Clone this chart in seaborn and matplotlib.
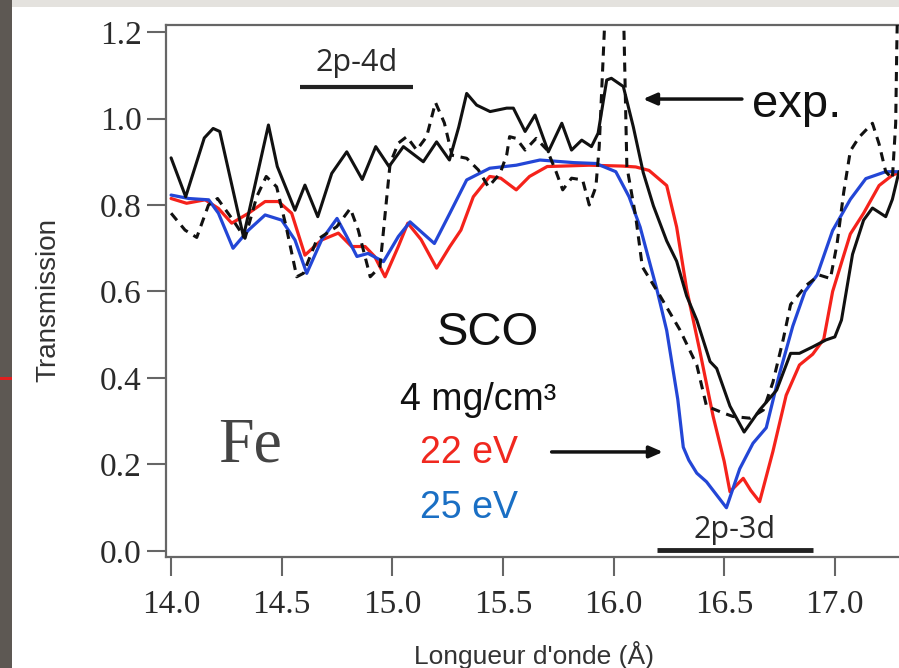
import matplotlib
matplotlib.use("Agg")
import matplotlib.pyplot as plt
import seaborn as sns
import pandas as pd
from matplotlib.patches import Rectangle

# ---- data ----
exp_solid_x = [14.00, 14.066, 14.15, 14.19, 14.22, 14.327, 14.44, 14.48, 14.56, 14.605, 14.663, 14.726,
               14.794, 14.864, 14.925, 14.985, 15.05, 15.14, 15.20, 15.258, 15.30, 15.336, 15.381, 15.442,
               15.517, 15.547, 15.60, 15.645, 15.705, 15.766, 15.81, 15.856, 15.90, 15.93, 15.969, 15.99,
               16.044, 16.089, 16.134, 16.18, 16.24, 16.285, 16.33, 16.376, 16.436, 16.466, 16.526, 16.59,
               16.66, 16.737, 16.80, 16.84, 16.90, 16.96, 17.00, 17.03, 17.08, 17.13, 17.17, 17.23, 17.26, 17.29]
exp_solid_y = [0.909, 0.819, 0.955, 0.977, 0.970, 0.727, 0.985, 0.889, 0.788, 0.846, 0.773, 0.873,
               0.923, 0.859, 0.935, 0.889, 0.935, 0.900, 0.946, 0.904, 0.980, 1.058, 1.031, 1.016,
               1.024, 1.024, 0.970, 1.008, 0.923, 0.989, 0.927, 0.950, 0.935, 0.966, 1.089, 1.093,
               1.074, 0.981, 0.875, 0.798, 0.717, 0.670, 0.590, 0.534, 0.438, 0.422, 0.335, 0.275,
               0.326, 0.372, 0.457, 0.457, 0.472, 0.488, 0.495, 0.534, 0.686, 0.765, 0.793, 0.773, 0.813, 0.877]

exp_dash_x = [14.00, 14.063, 14.116, 14.169, 14.21, 14.28, 14.334, 14.387, 14.43, 14.477, 14.52, 14.568,
              14.598, 14.658, 14.749, 14.81, 14.846, 14.90, 14.944, 14.975, 14.99, 15.027, 15.065, 15.11,
              15.155, 15.195, 15.235, 15.27, 15.336, 15.389, 15.434, 15.487, 15.517, 15.53, 15.56, 15.60,
              15.65, 15.70, 15.74, 15.77, 15.81, 15.86, 15.89, 15.92, 15.935, 15.958, 15.965, 16.040,
              16.047, 16.06, 16.10, 16.13, 16.21, 16.30, 16.376, 16.42, 16.496, 16.54, 16.617, 16.677,
              16.72, 16.767, 16.80, 16.87, 16.93, 16.98, 17.01, 17.04, 17.07, 17.11, 17.17, 17.20,
              17.23, 17.26, 17.275, 17.28, 17.285]
exp_dash_y = [0.781, 0.742, 0.725, 0.800, 0.815, 0.765, 0.723, 0.819, 0.866, 0.842, 0.750, 0.634,
              0.642, 0.719, 0.750, 0.792, 0.742, 0.634, 0.657, 0.819, 0.896, 0.943, 0.958, 0.927,
              0.958, 1.037, 0.990, 0.915, 0.908, 0.881, 0.842, 0.873, 0.916, 0.958, 0.954, 0.927,
              0.954, 0.927, 0.877, 0.835, 0.862, 0.858, 0.800, 0.842, 0.935, 1.200, 1.300, 1.300,
              1.200, 0.889, 0.773, 0.657, 0.590, 0.511, 0.430, 0.335, 0.319, 0.311, 0.307, 0.326,
              0.390, 0.490, 0.570, 0.614, 0.638, 0.630, 0.710, 0.829, 0.925, 0.957, 0.989, 0.941,
              0.877, 0.861, 0.989, 1.165, 1.300]

ev22_x = [14.00, 14.07, 14.154, 14.214, 14.274, 14.35, 14.425, 14.485, 14.545, 14.605, 14.68, 14.756,
          14.816, 14.877, 14.92, 14.967, 15.027, 15.07, 15.13, 15.20, 15.26, 15.31, 15.366, 15.44,
          15.49, 15.56, 15.62, 15.70, 15.77, 15.89, 16.04, 16.10, 16.16, 16.24, 16.285, 16.33,
          16.39, 16.45, 16.50, 16.526, 16.586, 16.62, 16.66, 16.72, 16.78, 16.84, 16.90, 16.95,
          16.99, 17.07, 17.13, 17.20, 17.26, 17.29]
ev22_y = [0.815, 0.804, 0.812, 0.792, 0.758, 0.781, 0.808, 0.808, 0.781, 0.684, 0.719, 0.735,
          0.704, 0.704, 0.681, 0.634, 0.704, 0.758, 0.720, 0.654, 0.704, 0.742, 0.819, 0.866,
          0.862, 0.835, 0.866, 0.889, 0.890, 0.892, 0.890, 0.888, 0.880, 0.845, 0.749, 0.606,
          0.462, 0.311, 0.207, 0.137, 0.168, 0.140, 0.114, 0.230, 0.360, 0.430, 0.455, 0.490,
          0.600, 0.733, 0.781, 0.845, 0.869, 0.875]

ev25_x = [14.00, 14.08, 14.17, 14.214, 14.28, 14.35, 14.425, 14.50, 14.56, 14.613, 14.68, 14.75,
          14.794, 14.84, 14.89, 14.96, 15.027, 15.08, 15.19, 15.26, 15.336, 15.44, 15.56, 15.667,
          15.82, 15.92, 16.01, 16.07, 16.12, 16.195, 16.24, 16.29, 16.315, 16.34, 16.376, 16.42,
          16.51, 16.57, 16.63, 16.69, 16.75, 16.81, 16.865, 16.92, 16.99, 17.07, 17.14, 17.23, 17.29]
ev25_y = [0.823, 0.815, 0.812, 0.781, 0.700, 0.742, 0.777, 0.765, 0.719, 0.642, 0.719, 0.769,
          0.727, 0.681, 0.688, 0.669, 0.727, 0.761, 0.711, 0.781, 0.858, 0.885, 0.892, 0.904,
          0.898, 0.896, 0.877, 0.819, 0.749, 0.606, 0.510, 0.351, 0.240, 0.210, 0.180, 0.160,
          0.100, 0.190, 0.249, 0.285, 0.410, 0.520, 0.600, 0.638, 0.741, 0.813, 0.861, 0.877, 0.877]

x_ticks = [14.0, 14.5, 15.0, 15.5, 16.0, 16.5, 17.0]
y_ticks = [0.0, 0.2, 0.4, 0.6, 0.8, 1.0, 1.2]

# ---- style ----
sns.set_style("white")
plt.rcParams['font.family'] = ['Liberation Sans', 'DejaVu Sans']

W, H = 899, 668
fig = plt.figure(figsize=(W / 100, H / 100), dpi=100)
fig.patch.set_facecolor("white")

def px_box(l, t, r, b):
    return [l / W, 1 - b / H, (r - l) / W, (b - t) / H]

ax = fig.add_axes(px_box(166, 25, 899, 557))
ax.set_xlim(13.977, 17.290)
ax.set_ylim(-0.0139, 1.2162)

RED = "#f5221b"
BLUE = "#2346d6"
BLACK = "#111111"

sns.lineplot(x=ev22_x, y=ev22_y, ax=ax, color=RED, lw=2.3, sort=False, estimator=None, zorder=3)
sns.lineplot(x=ev25_x, y=ev25_y, ax=ax, color=BLUE, lw=2.3, sort=False, estimator=None, zorder=4)
sns.lineplot(x=exp_dash_x, y=exp_dash_y, ax=ax, color=BLACK, lw=2.2, sort=False, estimator=None, zorder=5)
ax.lines[-1].set_dashes([3, 2.2])
sns.lineplot(x=exp_solid_x, y=exp_solid_y, ax=ax, color=BLACK, lw=2.2, sort=False, estimator=None, zorder=6)
for ln in ax.lines:
    ln.set_solid_joinstyle("round")
    ln.set_solid_capstyle("round")

# spines
for s in ["left", "bottom", "top"]:
    ax.spines[s].set_color("#666666")
    ax.spines[s].set_linewidth(1.6)
ax.spines["right"].set_visible(False)

ax.set_xticks(x_ticks)
ax.set_xticklabels([f"{v:.1f}" for v in x_ticks])
ax.set_yticks(y_ticks)
ax.set_yticklabels([f"{v:.1f}" for v in y_ticks])
ax.tick_params(axis="both", direction="out", length=13.5, width=1.5, color="#666666",
               labelcolor="#2a2a2a", labelsize=24, bottom=True, left=True, top=False, right=False)
ax.tick_params(axis="x", pad=10)
ax.tick_params(axis="y", pad=4)
for lab in ax.get_xticklabels() + ax.get_yticklabels():
    lab.set_fontfamily(["Liberation Serif", "DejaVu Serif"])
ax.set_xlabel("")
ax.set_ylabel("")

# axis titles
fig.text(48 / W, 1 - 300 / H, "Transmission", rotation=90, ha="center", va="center",
         fontsize=20, color="#333333", family=["Liberation Sans Narrow", "Liberation Sans"])
fig.text(534 / W, 1 - 664 / H, "Longueur d'onde (Å)", ha="center", va="baseline",
         fontsize=19, color="#333333", family=["Liberation Sans Narrow", "Liberation Sans"])

# annotations
LAB = ["Open Sans", "DejaVu Sans"]
ax.text(14.84, 1.128, "2p-4d", ha="center", va="center", fontsize=22, color="#2a2a2a", family=LAB)
ax.plot([14.583, 15.094], [1.073, 1.073], color="#222222", lw=3, solid_capstyle="butt", zorder=7)
ax.text(16.549, 0.049, "2p-3d", ha="center", va="center", fontsize=22, color="#2a2a2a", family=LAB)
ax.plot([16.196, 16.901], [0.002, 0.002], color="#222222", lw=3.5, solid_capstyle="butt",
        zorder=7, clip_on=False)

ax.text(16.625, 1.003, "exp.", ha="left", va="baseline", fontsize=34, color=BLACK)
ax.annotate("", xy=(16.133, 1.045), xytext=(16.58, 1.045),
            arrowprops=dict(arrowstyle="-|>,head_length=0.8,head_width=0.35", color=BLACK, lw=2.5,
                            shrinkA=0, shrinkB=0), zorder=8)

ax.text(15.432, 0.476, "SCO", ha="center", va="baseline", fontsize=34, color=BLACK)
ax.text(15.035, 0.326, "4 mg/cm³", ha="left", va="baseline", fontsize=27, color=BLACK)
ax.text(15.125, 0.203, "22 eV", ha="left", va="baseline", fontsize=27, color="#f0281f")
ax.text(15.125, 0.076, "25 eV", ha="left", va="baseline", fontsize=27, color="#1a6fc4")
ax.annotate("", xy=(16.223, 0.229), xytext=(15.72, 0.229),
            arrowprops=dict(arrowstyle="-|>,head_length=0.8,head_width=0.35", color=BLACK, lw=2.5,
                            shrinkA=0, shrinkB=0), zorder=8)
ax.text(14.212, 0.206, "Fe", ha="left", va="baseline", fontsize=46, color="#444444",
        family=["Liberation Serif", "DejaVu Serif"])

# slide background remnants
fig.patches.append(Rectangle((0, 1 - 7 / H), 1, 7 / H, transform=fig.transFigure,
                             facecolor="#e4e2de", edgecolor="none", zorder=-1))
fig.patches.append(Rectangle((0, 0), 12 / W, 1, transform=fig.transFigure,
                             facecolor="#5d5853", edgecolor="none", zorder=-1))
fig.patches.append(Rectangle((0, 1 - 380 / H), 12 / W, 3 / H, transform=fig.transFigure,
                             facecolor="#e02020", edgecolor="none", zorder=0))

fig.savefig("out.png", dpi=100)
